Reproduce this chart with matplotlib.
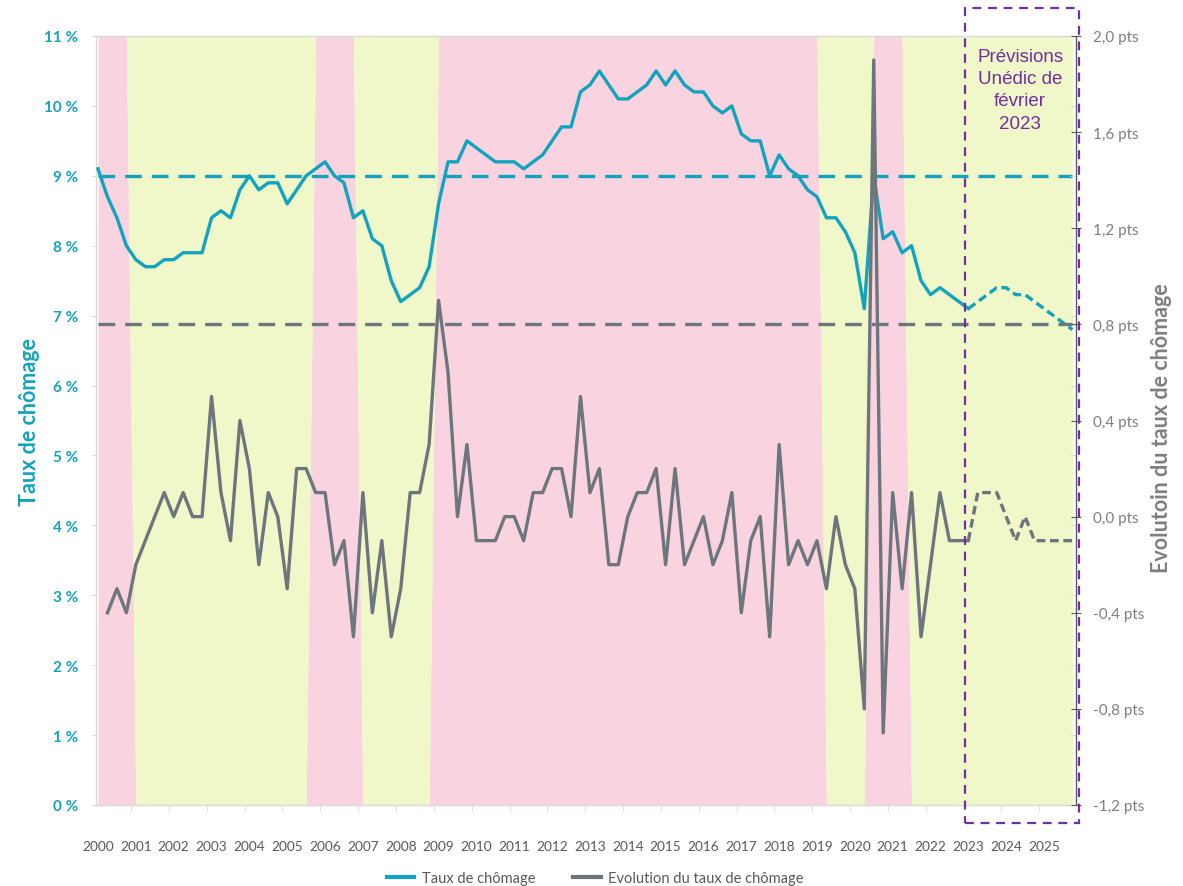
import matplotlib
matplotlib.use("Agg")
import matplotlib.pyplot as plt
import numpy as np
from matplotlib.lines import Line2D
from matplotlib.patches import Rectangle
from matplotlib.ticker import FixedLocator

plt.rcParams['font.family'] = ['Lato', 'DejaVu Sans']

# ---------------- data ----------------
annee_debut = 2000
n_trimestres = 104           # 2000 T1 .. 2025 T4
annees = list(range(2000, 2026))

# Taux de chômage (%), observé 2000T1 .. 2023T1
taux_observe = [9.1, 8.7, 8.4, 8.0, 7.8, 7.7, 7.7, 7.8, 7.8, 7.9, 7.9, 7.9,
                8.4, 8.5, 8.4, 8.8, 9.0, 8.8, 8.9, 8.9, 8.6, 8.8, 9.0, 9.1,
                9.2, 9.0, 8.9, 8.4, 8.5, 8.1, 8.0, 7.5, 7.2, 7.3, 7.4, 7.7,
                8.6, 9.2, 9.2, 9.5, 9.4, 9.3, 9.2, 9.2, 9.2, 9.1, 9.2, 9.3,
                9.5, 9.7, 9.7, 10.2, 10.3, 10.5, 10.3, 10.1, 10.1, 10.2, 10.3, 10.5,
                10.3, 10.5, 10.3, 10.2, 10.2, 10.0, 9.9, 10.0, 9.6, 9.5, 9.5, 9.0,
                9.3, 9.1, 9.0, 8.8, 8.7, 8.4, 8.4, 8.2, 7.9, 7.1, 9.0, 8.1,
                8.2, 7.9, 8.0, 7.5, 7.3, 7.4, 7.3, 7.2, 7.1]
# Prévisions Unédic 2023T1 .. 2025T4
taux_prevision = [7.1, 7.2, 7.3, 7.4, 7.4, 7.3, 7.3, 7.2, 7.1, 7.0, 6.9, 6.8]

# Evolution trimestrielle (pts), observé 2000T2 .. 2023T1
evolution_observe = [-0.4, -0.3, -0.4, -0.2, -0.1, 0.0, 0.1, 0.0, 0.1, 0.0, 0.0,
                     0.5, 0.1, -0.1, 0.4, 0.2, -0.2, 0.1, 0.0, -0.3, 0.2, 0.2, 0.1,
                     0.1, -0.2, -0.1, -0.5, 0.1, -0.4, -0.1, -0.5, -0.3, 0.1, 0.1, 0.3,
                     0.9, 0.6, 0.0, 0.3, -0.1, -0.1, -0.1, 0.0, 0.0, -0.1, 0.1, 0.1,
                     0.2, 0.2, 0.0, 0.5, 0.1, 0.2, -0.2, -0.2, 0.0, 0.1, 0.1, 0.2,
                     -0.2, 0.2, -0.2, -0.1, 0.0, -0.2, -0.1, 0.1, -0.4, -0.1, 0.0, -0.5,
                     0.3, -0.2, -0.1, -0.2, -0.1, -0.3, 0.0, -0.2, -0.3, -0.8, 1.9, -0.9,
                     0.1, -0.3, 0.1, -0.5, -0.2, 0.1, -0.1, -0.1, -0.1]
evolution_prevision = [-0.1, 0.1, 0.1, 0.1, 0.0, -0.1, 0.0, -0.1, -0.1, -0.1, -0.1, -0.1]

# Périodes de hausse (rose) ; le reste en vert
periodes_rose = [(2000.00, 2000.75), (2005.75, 2006.75), (2009.00, 2019.00), (2020.50, 2021.25)]

seuil_taux = 9.0
seuil_evolution = 0.8

ticks_gauche = list(range(0, 12))
ticks_droite = [-1.2, -0.8, -0.4, 0.0, 0.4, 0.8, 1.2, 1.6, 2.0]

# ---------------- style ----------------
teal = '#12A3BE'
gris = '#6D757D'
rose = '#F9D4E0'
vert = '#F0F7C8'
violet = '#7030A0'
gris_clair = '#D9D9D9'
gris_texte = '#7F7F7F'

t = annee_debut + np.arange(n_trimestres) / 4.0
n_obs = len(taux_observe)
indic_rose = np.zeros(n_trimestres)
for a, b in periodes_rose:
    indic_rose[(t >= a - 1e-9) & (t <= b + 1e-9)] = 1.0

W, H = 1183, 887
fig = plt.figure(figsize=(W / 100, H / 100), dpi=100)
ax = fig.add_axes([96 / W, 1 - 806 / H, 980 / W, 769 / H])
ax2 = ax.twinx()

ax.set_xlim(1999.947, 2025.845)
ax.set_ylim(0, 11)
ax2.set_ylim(-1.2, 2.0)

# background regimes (stacked areas)
ax.fill_between(t, 0, indic_rose * 11, color=rose, lw=0, zorder=0)
ax.fill_between(t, indic_rose * 11, 11, color=vert, lw=0, zorder=0)

# reference lines
ax.hlines(seuil_taux, t[0], t[-1], colors=teal, lw=2.4, linestyles=(0, (5, 3)), zorder=2)
ax2.hlines(seuil_evolution, t[0], t[-1], colors=gris, lw=2.4, linestyles=(0, (5, 3)), zorder=2)

# series
ax.plot(t[:n_obs], taux_observe, color=teal, lw=2.4, solid_joinstyle='round', zorder=3)
ax.plot(t[n_obs - 1:], taux_prevision, color=teal, lw=2.4, ls=(0, (2.6, 1.4)), zorder=3)
ax2.plot(t[1:n_obs], evolution_observe, color=gris, lw=2.4, solid_joinstyle='round', zorder=3)
ax2.plot(t[n_obs - 1:], evolution_prevision, color=gris, lw=2.4, ls=(0, (2.6, 1.4)), zorder=3)

# axes styling
for s in ['left', 'bottom', 'top']:
    ax.spines[s].set_color(gris_clair)
    ax.spines[s].set_linewidth(1)
ax.spines['right'].set_visible(False)
for s in ['left', 'bottom', 'top']:
    ax2.spines[s].set_visible(False)
ax2.spines['right'].set_color('#595959')
ax2.spines['right'].set_linewidth(1)

ax.set_yticks(ticks_gauche)
ax.set_yticklabels([f"{v} %" for v in ticks_gauche], color=teal, fontweight='bold', fontsize=11)
ax.tick_params(axis='y', which='major', direction='out', length=3, color=gris_clair, pad=10)

ax.set_xticks(annees)
ax.set_xticklabels([str(a) for a in annees], fontsize=9.8, color='#595959')
ax.tick_params(axis='x', which='major', length=0, pad=25)
ax.xaxis.set_minor_locator(FixedLocator([a - 0.125 for a in annees] + [annees[-1] + 0.875]))
ax.tick_params(axis='x', which='minor', direction='out', length=4, color=gris_clair)

ax2.set_yticks(ticks_droite)
ax2.set_yticklabels([f"{v:.1f} pts".replace('.', ',') for v in ticks_droite], color=gris_texte, fontsize=11)
ax2.tick_params(axis='y', which='major', direction='inout', length=7, color='#595959', pad=9)
ax2.yaxis.set_minor_locator(FixedLocator([-1.2 + k * 3.2 / 11 for k in range(12)]))
ax2.tick_params(axis='y', which='minor', direction='in', length=4, color=gris_clair)

# axis titles
fig.text(30 / W, 1 - 422 / H, 'Taux de chômage', rotation=90, ha='center', va='center',
         color=teal, fontsize=15.5, fontweight='bold')
fig.text(1161 / W, 1 - 428 / H, 'Evolutoin du taux de chômage', rotation=90, ha='center', va='center',
         color=gris_texte, fontsize=15.5, fontweight='bold')

# forecast box
box = Rectangle((0.8867, -0.0234), 1.0031 - 0.8867, 1.0364 + 0.0234, transform=ax.transAxes,
                fill=False, edgecolor=violet, lw=1.6, ls=(0, (4, 3)), clip_on=False, zorder=10)
ax2.add_patch(box)
ax2.text(0.943, 0.930, 'Prévisions\nUnédic de\nfévrier\n2023', transform=ax.transAxes,
         ha='center', va='center', color=violet, fontsize=13.5, family=['Liberation Sans', 'DejaVu Sans'],
         linespacing=1.4, zorder=11)

# legend
handles = [Line2D([], [], color=teal, lw=3), Line2D([], [], color=gris, lw=3)]
fig.legend(handles, ['Taux de chômage', 'Evolution du taux de chômage'], loc='center',
           bbox_to_anchor=(0.503, 1 - 879 / H), ncol=2, frameon=False, fontsize=10.5,
           labelcolor='#595959', handlelength=1.9, handletextpad=0.5, columnspacing=2.6,
           borderpad=0.1)

fig.savefig('out.png', dpi=100)
